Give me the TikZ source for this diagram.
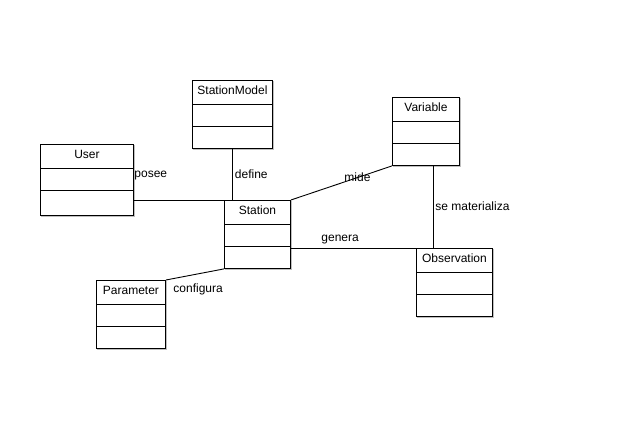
\documentclass[tikz,border=0pt]{standalone}
\usepackage{fontspec}
\setmainfont{Liberation Sans}
\usetikzlibrary{positioning}
\usetikzlibrary{shadows}

\begin{document}
\begin{tikzpicture}[x=1pt,y=-1pt,line width=0.9pt,font=\fontsize{12}{14}\selectfont,
    clase/.style={draw,fill=white,anchor=north west,minimum height=68pt,inner sep=0pt,
      general shadow={shadow xshift=1pt,shadow yshift=-1pt,draw=black!25,fill=white},
      label={[anchor=base,yshift=-14.5pt]north:#1},
      path picture={\draw ([yshift=-24pt]path picture bounding box.north west) -- ([yshift=-24pt]path picture bounding box.north east)
        ([yshift=-46pt]path picture bounding box.north west) -- ([yshift=-46pt]path picture bounding box.north east);}},
    rel/.style={anchor=west,inner sep=0pt}]
    \useasboundingbox (0,0) rectangle (644,428);
    \node[clase=StationModel,minimum width=80pt] (model) at (192,80)  {};
    \node[clase=User,minimum width=93pt,minimum height=71pt] (user) at (40,144) {};
    \node[clase=Station,minimum width=66pt]      (sta)   at (224,200) {};
    \node[clase=Parameter,minimum width=69pt]    (param) at (96,280)  {};
    \node[clase=Variable,minimum width=67pt]     (var)   at (392,97)  {};
    \node[clase=Observation,minimum width=76pt]  (obs)   at (416,248) {};
    \draw (user.east |- sta.north) -- (model.south |- sta.north);
    \draw (model.south) -- (model.south |- sta.north);
    \draw (sta.north east) -- (var.south west);
    \draw ([xshift=7pt]var.south) -- ([xshift=7pt]var.south |- obs.north);
    \draw (sta.east |- obs.north) -- (obs.north west);
    \draw (param.north east) -- (sta.south west);
    \node[rel] (posee) at (134,176)   {posee};
    \node[rel] (define) at (234.5,174) {define};
    \node[rel] (mide) at (344,177)    {mide};
    \node[rel] (genera) at (321,239.5) {genera};
    \node[rel] (mat) at (435,206)     {se materializa};
    \node[rel] (config) at (173,289.5) {configura};
\end{tikzpicture}
\end{document}
